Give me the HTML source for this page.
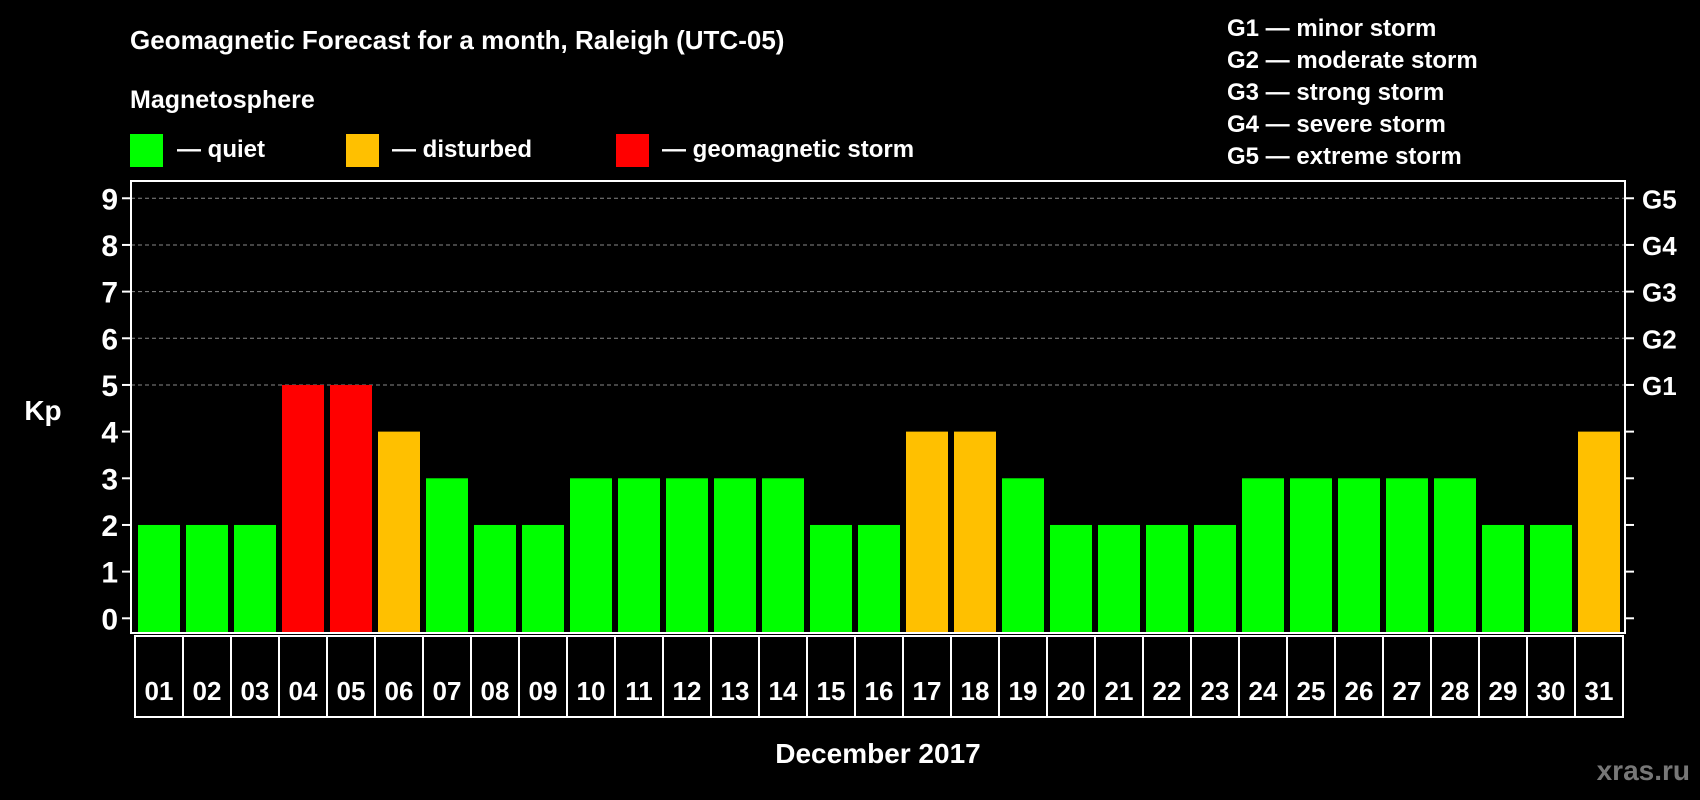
<!DOCTYPE html>
<html><head><meta charset="utf-8"><style>
html,body{margin:0;padding:0;background:#000;}
svg{display:block;font-family:"Liberation Sans",Arial,sans-serif;font-weight:bold;}
</style></head><body>
<svg id="c" width="1700" height="800" viewBox="0 0 1700 800">
<rect width="1700" height="800" fill="#000"/>
<text x="130" y="49" fill="#fff" font-size="26">Geomagnetic Forecast for a month, Raleigh (UTC-05)</text>
<text x="130" y="108" fill="#fff" font-size="25">Magnetosphere</text>
<rect x="130" y="134" width="33" height="33" fill="#00ff00"/>
<text x="177" y="157" fill="#fff" font-size="24">— quiet</text>
<rect x="346" y="134" width="33" height="33" fill="#ffc000"/>
<text x="392" y="157" fill="#fff" font-size="24">— disturbed</text>
<rect x="616" y="134" width="33" height="33" fill="#ff0000"/>
<text x="662" y="157" fill="#fff" font-size="24">— geomagnetic storm</text>
<g fill="#fff" font-size="24">
<text x="1227" y="36">G1 — minor storm</text>
<text x="1227" y="68">G2 — moderate storm</text>
<text x="1227" y="100">G3 — strong storm</text>
<text x="1227" y="132">G4 — severe storm</text>
<text x="1227" y="164">G5 — extreme storm</text>
</g>
<text x="43" y="420" fill="#fff" font-size="28" text-anchor="middle">Kp</text>
<text x="878" y="763" fill="#fff" font-size="28" text-anchor="middle">December 2017</text>
<text x="1690" y="780" fill="#777" font-size="28" text-anchor="end">xras.ru</text>
<g id="plot"></g>
</svg>
<script>
const days = ["01","02","03","04","05","06","07","08","09","10","11","12","13","14","15","16","17","18","19","20","21","22","23","24","25","26","27","28","29","30","31"];
const kp = [2,2,2,5,5,4,3,2,2,3,3,3,3,3,2,2,4,4,3,2,2,2,2,3,3,3,3,3,2,2,4];
const yTicks = [0,1,2,3,4,5,6,7,8,9];
const gLabels = ["G1","G2","G3","G4","G5"];
const NS="http://www.w3.org/2000/svg";
const g=document.getElementById('plot');
const L=131,R=1625,T=181,B=633;
const y=v=>618.3-v*46.67;
const x=i=>138+i*48;
function mk(t,a){const e=document.createElementNS(NS,t);for(const k in a)e.setAttribute(k,a[k]);g.appendChild(e);return e;}
yTicks.forEach(v=>{
  if(v>=5){const l=mk('line',{x1:L,x2:R,y1:y(v),y2:y(v),stroke:'#888','stroke-width':1,'stroke-dasharray':'4,3'});
  
  }
  const t=mk('line',{x1:122,x2:L,y1:y(v),y2:y(v),stroke:'#fff','stroke-width':2});
  
  
  const t2=mk('line',{x1:R,x2:1634,y1:y(v),y2:y(v),stroke:'#fff','stroke-width':2});
  
  
  const tx=mk('text',{x:118,y:y(v)+11,fill:'#fff','font-size':30,'text-anchor':'end'});
  tx.textContent=v;
  
  
});
gLabels.forEach((s,i)=>{
  const tx=mk('text',{x:1642,y:y(5+i)+10,fill:'#fff','font-size':26});
  tx.textContent=s;
  
  
});
kp.forEach((v,i)=>{
  const c=v>=5?'#ff0000':(v>=4?'#ffc000':'#00ff00');
  const b=mk('rect',{x:x(i),y:y(v),width:42,height:B-y(v),fill:c});
  
  
  const cell=mk('rect',{x:x(i)-3,y:636,width:48,height:81,fill:'none',stroke:'#fff','stroke-width':2});
  
  
  const tx=mk('text',{x:x(i)+21,y:700,fill:'#fff','font-size':26,'text-anchor':'middle'});
  tx.textContent=days[i];
  
  
});
const fr=mk('rect',{x:L,y:T,width:R-L,height:B-T,fill:'none',stroke:'#fff','stroke-width':2});


</script>
</body></html>
